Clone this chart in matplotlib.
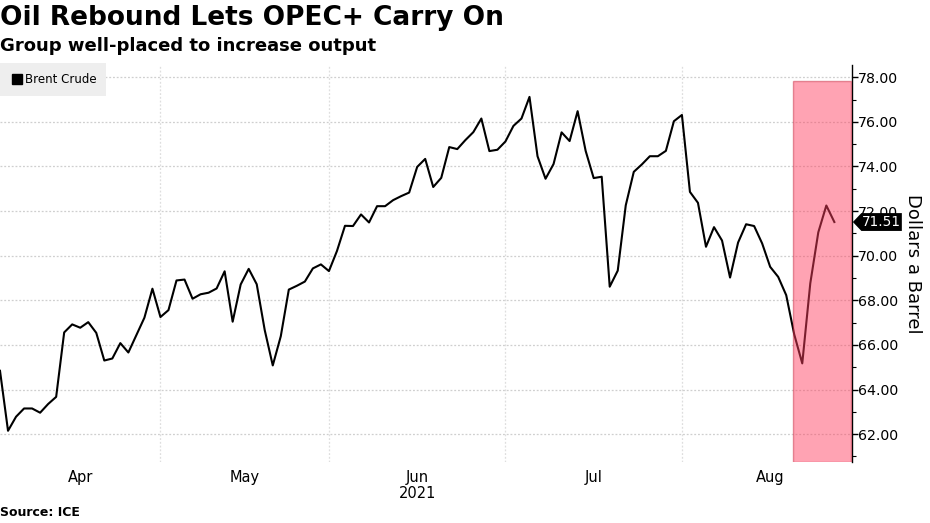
import matplotlib
matplotlib.use("Agg")
import matplotlib.pyplot as plt
import matplotlib.transforms as mtransforms
from matplotlib.patches import Rectangle, Polygon
from matplotlib.lines import Line2D
from matplotlib.ticker import MultipleLocator, FormatStrFormatter, FixedLocator

# Brent crude, one value per trading day
brent = [
    64.84, 62.15, 62.78, 63.15, 63.15, 62.96, 63.35, 63.67, 66.56, 66.92,
    66.77, 67.02, 66.54, 65.30, 65.39, 66.08, 65.66, 66.44, 67.22, 68.52,
    67.25, 67.56, 68.89, 68.93, 68.07, 68.27, 68.34, 68.53, 69.30, 67.04,
    68.71, 69.41, 68.72, 66.66, 65.08, 66.39, 68.48, 68.65, 68.84, 69.43,
    69.61, 69.31, 70.21, 71.34, 71.33, 71.85, 71.49, 72.22, 72.22, 72.49,
    72.67, 72.83, 73.98, 74.34, 73.08, 73.49, 74.87, 74.78, 75.18, 75.54,
    76.15, 74.69, 74.75, 75.12, 75.82, 76.15, 77.12, 74.46, 73.45, 74.11,
    75.53, 75.14, 76.48, 74.70, 73.48, 73.54, 68.61, 69.33, 72.26, 73.76,
    74.09, 74.46, 74.46, 74.70, 76.03, 76.31, 72.86, 72.37, 70.40, 71.28,
    70.68, 69.02, 70.59, 71.41, 71.33, 70.55, 69.50, 69.05, 68.23, 66.47,
    65.17, 68.76, 71.05, 72.25, 71.51,
]
days = list(range(len(brent)))

# month boundaries (trading-day index) and labels
month_edges = [0, 20, 41, 63, 85, 107]
month_names = ["Apr", "May", "Jun", "Jul", "Aug"]

# highlighted stretch at the end
hl_start, hl_end, hl_top = 98.9, 106.1, 77.82

ymin, ymax = 60.75, 78.55

fig = plt.figure(figsize=(9.3, 5.23), dpi=100)
ax = fig.add_axes([0, 1 - 462 / 523, 852 / 930, (462 - 65) / 523])

ax.plot(days, brent, color="black", lw=1.5, zorder=3)

ax.add_patch(Rectangle((hl_start, ymin), hl_end - hl_start, hl_top - ymin,
                       facecolor="#ff4060", alpha=0.48, edgecolor="#c8283f",
                       lw=1.0, zorder=4))

ax.set_xlim(0, 106.2)
ax.set_ylim(ymin, ymax)

# y axis on the right
ax.yaxis.tick_right()
ax.yaxis.set_major_locator(MultipleLocator(2))
ax.yaxis.set_minor_locator(MultipleLocator(1))
ax.yaxis.set_major_formatter(FormatStrFormatter("%.2f"))
ax.tick_params(axis="y", which="major", length=4, width=1, pad=0.5,
               labelsize=10.2, colors="black", direction="out")
ax.tick_params(axis="y", which="minor", length=3, width=0.8, direction="out")
ax.set_ylabel("Dollars a Barrel", rotation=270, fontsize=13, labelpad=17)
ax.yaxis.set_label_position("right")

# x axis: month gridlines at boundaries, labels centred
ax.xaxis.set_major_locator(FixedLocator(month_edges[1:-1]))
ax.xaxis.set_major_formatter(plt.NullFormatter())
mids = [(a + b) / 2 for a, b in zip(month_edges[:-1], month_edges[1:])]
ax.xaxis.set_minor_locator(FixedLocator(mids))
ax.set_xticklabels(month_names, minor=True)
ax.tick_params(axis="x", which="both", length=0, labelsize=10.5, pad=6)
ax.text((month_edges[2] + month_edges[3]) / 2, -0.08, "2021",
        transform=mtransforms.blended_transform_factory(ax.transData, ax.transAxes),
        ha="center", va="center", fontsize=10.5)

ax.grid(axis="y", which="major", color="#cfcfcf", ls=(0, (1.5, 1.5)), lw=0.9)
ax.grid(axis="x", which="major", color="#dedede", ls=(0, (1.5, 1.5)), lw=0.9)

for s in ["top", "left", "bottom"]:
    ax.spines[s].set_visible(False)
ax.spines["right"].set_color("black")
ax.spines["right"].set_linewidth(1)

# last value tag
last = brent[-1]
tr = mtransforms.blended_transform_factory(ax.transAxes, ax.transData)
h = 0.4
tag = Polygon([(1.001, last), (1.011, last + h), (1.0585, last + h),
               (1.0585, last - h), (1.011, last - h)],
              closed=True, transform=tr, facecolor="black", edgecolor="none",
              clip_on=False, zorder=6)
ax.add_patch(tag)
ax.text(1.0348, last, f"{last:.2f}", transform=tr, color="white", fontsize=9.8,
        ha="center", va="center", zorder=7, clip_on=False)

# legend
handle = Line2D([], [], marker="s", color="black", ls="none", markersize=7.5)
leg = ax.legend([handle], ["Brent Crude"], loc="upper left",
                bbox_to_anchor=(0, 1.005), frameon=True, fontsize=8.5,
                handletextpad=0.15, handlelength=1.1, borderpad=0.85,
                borderaxespad=0)
leg.get_frame().set_facecolor("#eeeeee")
leg.get_frame().set_edgecolor("none")
leg.get_frame().set_alpha(1)
leg.get_frame().set_boxstyle("square", pad=0)

fig.text(0.0, 1 - 18 / 523, "Oil Rebound Lets OPEC+ Carry On", fontsize=19,
         fontweight="bold", va="center", ha="left")
fig.text(0.0, 1 - 46 / 523, "Group well-placed to increase output", fontsize=13,
         fontweight="bold", va="center", ha="left")
fig.text(0.0, 1 - 512 / 523, "Source: ICE", fontsize=9, fontweight="bold",
         va="center", ha="left")

fig.savefig("out.png", dpi=100)
